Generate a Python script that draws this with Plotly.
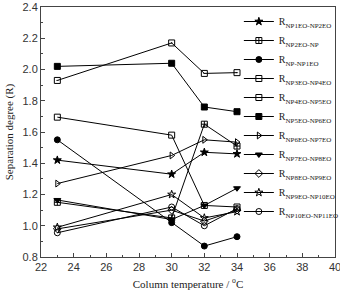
import plotly.graph_objects as go

temps = [23, 30, 32, 34]
names = ["NP1EO-NP2EO", "NP2EO-NP", "NP-NP1EO", "NP3EO-NP4EO", "NP4EO-NP5EO",
         "NP5EO-NP6EO", "NP6EO-NP7EO", "NP7EO-NP8EO", "NP8EO-NP9EO",
         "NP9EO-NP10EO", "NP10EO-NP11EO"]
r_np1_np2 = [1.42, 1.33, 1.47, 1.46]
r_np2_np = [1.15, 1.05, 1.65, 1.51]
r_np_np1 = [1.55, 1.02, 0.87, 0.93]
r_np3_np4 = [1.93, 2.17, 1.975, 1.98]
r_np4_np5 = [1.695, 1.58, 1.13, 1.12]
r_np5_np6 = [2.02, 2.04, 1.76, 1.73]
r_np6_np7 = [1.27, 1.45, 1.55, 1.535]
r_np7_np8 = [1.165, 1.04, 1.13, 1.24]
r_np8_np9 = [0.98, 1.10, 1.03, 1.10]
r_np9_np10 = [0.99, 1.20, 1.05, 1.09]
r_np10_np11 = [0.955, 1.12, 1.00, 1.11]

series = [r_np1_np2, r_np2_np, r_np_np1, r_np3_np4, r_np4_np5, r_np5_np6,
          r_np6_np7, r_np7_np8, r_np8_np9, r_np9_np10, r_np10_np11]
symbols = ["star", "square-cross-open", "circle", "square-open-dot", "square-open",
           "square", "triangle-right-open", "triangle-down", "diamond-open",
           "star-open", "circle-open"]

fig = go.Figure()
for nm, vals, sym in zip(names, series, symbols):
    fig.add_trace(go.Scatter(
        x=temps, y=vals, mode="lines+markers",
        name="R<sub>" + nm + "</sub>",
        line=dict(color="black", width=1),
        marker=dict(symbol=sym, size=6, color="black",
                    line=dict(color="black", width=1)),
    ))

axis_common = dict(showline=True, linecolor="#444", linewidth=1, mirror=True,
                   ticks="inside", ticklen=4, tickcolor="#444", showgrid=False,
                   zeroline=False, ticklabeloverflow="allow",
                   tickfont=dict(family="Liberation Sans", size=11, color="#333"))

fig.update_xaxes(range=[22, 40], dtick=2, tick0=22,
                 minor=dict(dtick=1, ticks="inside", ticklen=2, tickcolor="#444"),
                 title=dict(text="Column temperature / <sup>o</sup>C",
                            font=dict(family="Liberation Serif", size=11, color="#222"),
                            standoff=12),
                 **axis_common)
fig.update_yaxes(range=[0.8, 2.4], dtick=0.2, tick0=0.8, tickformat=".1f",
                 minor=dict(dtick=0.1, ticks="inside", ticklen=2, tickcolor="#444"),
                 title=dict(text="Separation degree (R)",
                            font=dict(family="Liberation Serif", size=11, color="#222"),
                            standoff=6),
                 **axis_common)

fig.update_layout(
    width=340, height=290,
    margin=dict(l=41, r=5, t=7, b=33, autoexpand=False),
    plot_bgcolor="white", paper_bgcolor="white",
    legend=dict(x=0.673, y=1.0, xanchor="left", yanchor="top",
                bgcolor="rgba(0,0,0,0)", borderwidth=0,
                font=dict(family="Liberation Serif", size=10, color="#222"),
                itemwidth=30, tracegroupgap=0),
    showlegend=True,
)

fig.write_html("out.html")
